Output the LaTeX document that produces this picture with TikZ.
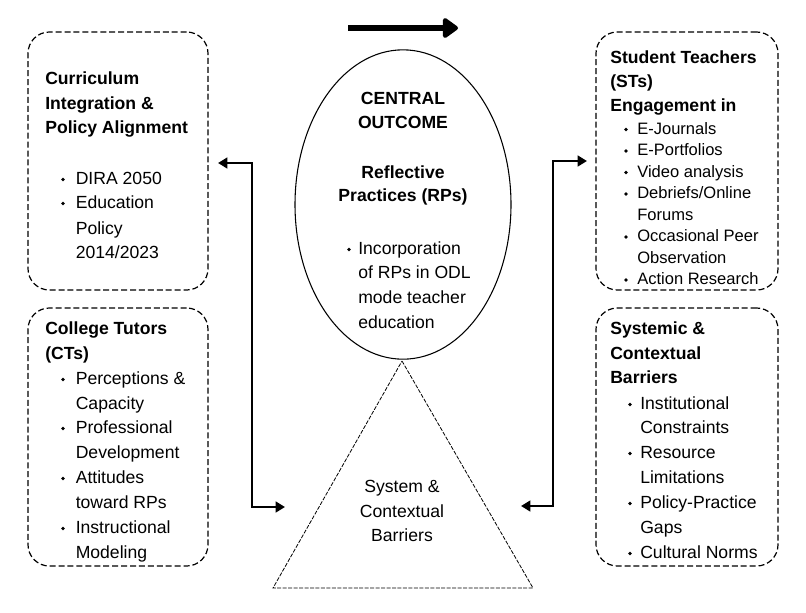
\documentclass[tikz,border=0pt]{standalone}
\usepackage{fontspec}
\setmainfont{Liberation Sans}
\usetikzlibrary{arrows.meta,shapes.geometric}
\begin{document}
\begin{tikzpicture}[x=0.75pt,y=-0.75pt,
  box/.style={draw, line width=0.9pt, dash pattern=on 4.5pt off 2.2pt, rounded corners=16pt, inner sep=0pt},
  hd/.style={anchor=mid west, inner sep=0pt, yshift=-1.9pt, font=\fontsize{13.2}{16}\selectfont\bfseries},
  tx/.style={anchor=mid west, inner sep=0pt, yshift=-1.9pt, font=\fontsize{13.2}{16}\selectfont},
  sx/.style={anchor=mid west, inner sep=0pt, yshift=-1.9pt, font=\fontsize{12.4}{15}\selectfont},
  ctb/.style={anchor=mid, inner sep=0pt, yshift=-1.9pt, font=\fontsize{13.2}{16}\selectfont\bfseries},
  ct/.style={anchor=mid, inner sep=0pt, yshift=-1.9pt, font=\fontsize{13.2}{16}\selectfont},
  bul/.style={circle, fill, inner sep=0pt, minimum size=2.9pt},
  conn/.style={line width=2.2pt, {Triangle[length=7pt,width=8pt]}-{Triangle[length=7pt,width=8pt]}},
  tri/.style={line width=0.6pt, dash pattern=on 3pt off 1.1pt}
]
\useasboundingbox (0,0) rectangle (806,612);

% boxes
\node[box, minimum width=135pt, minimum height=193.5pt] (b1) at (118,161) {};
\node[box, minimum width=135pt, minimum height=193.5pt] (b2) at (118,437) {};
\node[box, minimum width=136.5pt, minimum height=193.5pt] (b3) at (687,161) {};
\node[box, minimum width=136.5pt, minimum height=193.5pt] (b4) at (687,437) {};

% ellipse and triangle
\node[draw, ellipse, line width=0.8pt, inner sep=0pt, minimum width=162pt, minimum height=232pt] (el) at (403,204.5) {};
\coordinate (tapex) at (402,361);
\coordinate (tbl) at (273,588);
\coordinate (tbr) at (533,588);
\draw[tri] (tapex) -- (tbr) -- (tbl) -- cycle;

% top arrow
\coordinate (ta) at (348,28);
\coordinate (tb) at (458,28);
\draw[line width=4.5pt, -{Triangle[round,length=12.5pt,width=17pt]}] (ta) -- (tb);

% connectors
\coordinate (ls) at (218,163);
\coordinate (lj) at (252,507);
\coordinate (le) at (285,507);
\draw[conn, line join=miter] (ls) -| (lj) -- (le);
\coordinate (rs) at (587,161);
\coordinate (rj) at (553,506);
\coordinate (re) at (521,506);
\draw[conn, line join=miter] (rs) -| (rj) -- (re);

% box 1
\node[hd] (a1) at (45,78) {Curriculum};
\node[hd] (a2) at (45,103) {Integration \&};
\node[hd] (a3) at (45,127) {Policy Alignment};
\node[bul] (ab1) at (63,179.5) {};
\node[bul] (ab2) at (63,203.5) {};
\node[tx] (a4) at (75.5,178) {DIRA 2050};
\node[tx] (a5) at (75.5,202) {Education};
\node[tx] (a6) at (75.5,228) {Policy};
\node[tx] (a7) at (75.5,252) {2014/2023};

% box 2
\node[hd] (c1) at (45,328) {College Tutors};
\node[hd] (c2) at (45,353) {(CTs)};
\node[bul] (cb1) at (63,379.5) {};
\node[bul] (cb2) at (63,428.5) {};
\node[bul] (cb3) at (63,478.5) {};
\node[bul] (cb4) at (63,528.5) {};
\node[tx] (c3) at (75.5,378) {Perceptions \&};
\node[tx] (c4) at (75.5,403) {Capacity};
\node[tx] (c5) at (75.5,427) {Professional};
\node[tx] (c6) at (75.5,452) {Development};
\node[tx] (c7) at (75.5,477) {Attitudes};
\node[tx] (c8) at (75.5,502) {toward RPs};
\node[tx] (c9) at (75.5,527) {Instructional};
\node[tx] (c10) at (75.5,552) {Modeling};

% box 3
\node[hd] (s1) at (610,57) {Student Teachers};
\node[hd] (s2) at (610,81) {(STs)};
\node[hd] (s3) at (610,105) {Engagement in};
\node[bul] (sb1) at (626,129.5) {};
\node[bul] (sb2) at (626,151) {};
\node[bul] (sb3) at (626,172.5) {};
\node[bul] (sb4) at (626,194) {};
\node[bul] (sb5) at (626,237) {};
\node[bul] (sb6) at (626,280) {};
\node[sx] (s4) at (637,128) {E-Journals};
\node[sx] (s5) at (637,149.5) {E-Portfolios};
\node[sx] (s6) at (637,171) {Video analysis};
\node[sx] (s7) at (637,192.5) {Debriefs/Online};
\node[sx] (s8) at (637,214) {Forums};
\node[sx] (s9) at (637,235.5) {Occasional Peer};
\node[sx] (s10) at (637,257) {Observation};
\node[sx] (s11) at (637,278.5) {Action Research};

% box 4
\node[hd] (y1) at (610,328) {Systemic \&};
\node[hd] (y2) at (610,353) {Contextual};
\node[hd] (y3) at (610,377) {Barriers};
\node[bul] (yb1) at (630,404.5) {};
\node[bul] (yb2) at (630,453.5) {};
\node[bul] (yb3) at (630,503.5) {};
\node[bul] (yb4) at (630,553.5) {};
\node[tx] (y4) at (640,403) {Institutional};
\node[tx] (y5) at (640,427) {Constraints};
\node[tx] (y6) at (640,452) {Resource};
\node[tx] (y7) at (640,477) {Limitations};
\node[tx] (y8) at (640,502) {Policy-Practice};
\node[tx] (y9) at (640,527) {Gaps};
\node[tx] (y10) at (640,552) {Cultural Norms};

% ellipse text
\node[ctb] (e1) at (403,98) {CENTRAL};
\node[ctb] (e2) at (403,122) {OUTCOME};
\node[ctb] (e3) at (403,172) {Reflective};
\node[ctb] (e4) at (403,195) {Practices (RPs)};
\node[bul] (eb1) at (349,249.5) {};
\node[tx] (e5) at (358,248) {Incorporation};
\node[tx] (e6) at (358,272) {of RPs in ODL};
\node[tx] (e7) at (358,297) {mode teacher};
\node[tx] (e8) at (358,322) {education};

% triangle text
\node[ct] (t1) at (402,486) {System \&};
\node[ct] (t2) at (402,511) {Contextual};
\node[ct] (t3) at (402,535) {Barriers};
\end{tikzpicture}
\end{document}
